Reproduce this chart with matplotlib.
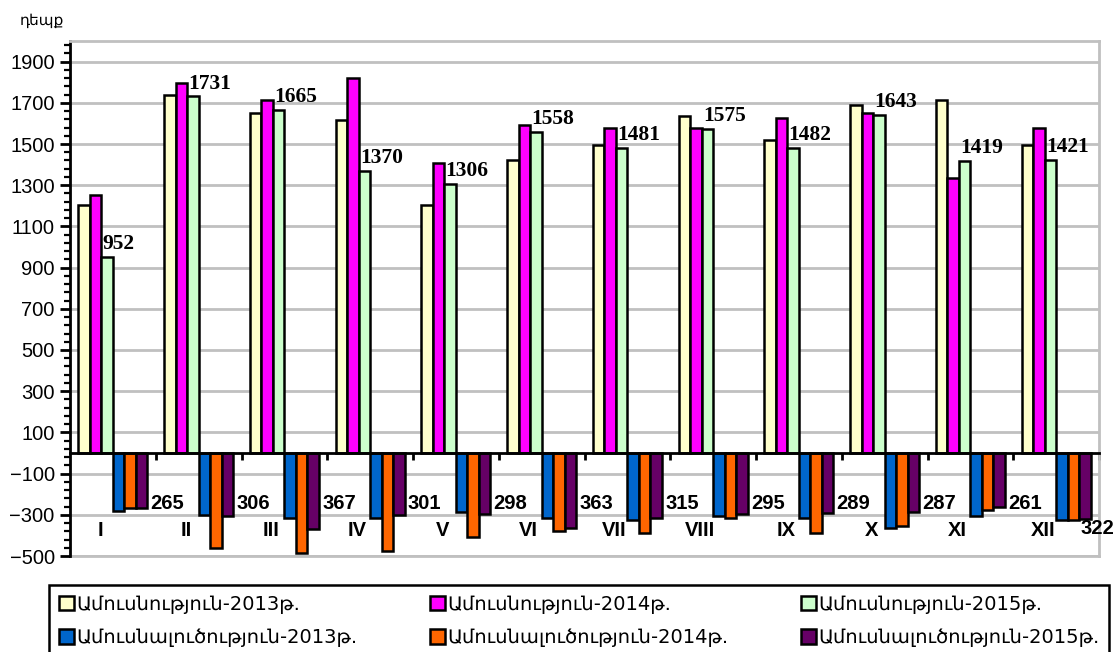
import numpy as np
import matplotlib
matplotlib.use("Agg")
import matplotlib.pyplot as plt
from matplotlib.ticker import FixedLocator

months = ["I", "II", "III", "IV", "V", "VI", "VII", "VIII", "IX", "X", "XI", "XII"]

# marriages (positive), divorces (negative, drawn below zero)
marr_2013 = [1203, 1737, 1651, 1615, 1203, 1421, 1493, 1638, 1518, 1688, 1713, 1493]
marr_2014 = [1251, 1798, 1713, 1821, 1409, 1590, 1579, 1580, 1625, 1651, 1336, 1579]
marr_2015 = [952, 1731, 1665, 1370, 1306, 1558, 1481, 1575, 1482, 1643, 1419, 1421]
div_2013 = [280, 300, 315, 315, 287, 315, 325, 305, 315, 362, 304, 325]
div_2014 = [267, 460, 486, 474, 409, 377, 388, 315, 389, 352, 276, 325]
div_2015 = [265, 306, 367, 301, 298, 363, 315, 295, 289, 287, 261, 322]

series = [
    ("Ամուսնություն-2013թ.", marr_2013, 1, "#FFFFCC"),
    ("Ամուսնություն-2014թ.", marr_2014, 1, "#FF00FF"),
    ("Ամուսնություն-2015թ.", marr_2015, 1, "#CCFFCC"),
    ("Ամուսնալուծություն-2013թ.", div_2013, -1, "#0066CC"),
    ("Ամուսնալուծություն-2014թ.", div_2014, -1, "#FF6600"),
    ("Ամուսնալուծություն-2015թ.", div_2015, -1, "#660066"),
]

fig = plt.figure(figsize=(11.19, 6.52), dpi=100)
ax = fig.add_axes([70 / 1119, 1 - 556 / 652, 1029 / 1119, 515 / 652])

x = np.arange(len(months))
w = 0.134
handles = []
for k, (name, vals, sign, color) in enumerate(series):
    b = ax.bar(x + (k - 2.5) * w, sign * np.array(vals), width=w, color=color,
               edgecolor="black", linewidth=1.8, label=name, zorder=3)
    handles.append(b)

ax.set_xlim(-0.5, len(months) - 0.5)
ax.set_ylim(-500, 2000)
ax.set_yticks(np.arange(-500, 2000, 200))
ax.yaxis.set_minor_locator(FixedLocator(np.arange(-500, 2001, 40)))
ax.tick_params(axis="y", which="major", length=7, width=2, labelsize=14.5, pad=4)
ax.tick_params(axis="y", which="minor", length=4, width=1.6)
for lab in ax.get_yticklabels():
    lab.set_family("Liberation Sans")

ax.grid(axis="y", color="#c0c0c0", linewidth=2, zorder=0)
ax.set_axisbelow(True)

# category axis sits on zero
ax.spines["bottom"].set_position(("data", 0))
ax.spines["bottom"].set_linewidth(2)
ax.spines["bottom"].set_zorder(4)
ax.spines["left"].set_linewidth(2)
ax.spines["top"].set_color("#c0c0c0")
ax.spines["top"].set_linewidth(2)
ax.spines["right"].set_color("#c0c0c0")
ax.spines["right"].set_linewidth(2)
ax.set_xticks(np.arange(len(months)) + 0.5)
ax.set_xticklabels([])
ax.tick_params(axis="x", length=5, width=2, direction="out")
ax.axhline(-500, color="#c0c0c0", linewidth=2, zorder=0, clip_on=False)

for i, m in enumerate(months):
    ax.text(i - 0.15, -375, m, ha="center", va="center", fontsize=14.5,
            fontweight="bold", family="Liberation Sans")

for i, v in enumerate(marr_2015):
    ax.annotate(str(v), (i - 0.12, v), xytext=(0, 2), textcoords="offset points",
                ha="left", va="bottom", fontsize=15.5, fontweight="bold",
                family="Liberation Serif", zorder=5)

for i, v in enumerate(div_2015):
    last = i == len(div_2015) - 1
    ax.text(i + (0.28 if last else 0.44), -365 if last else -245, str(v),
            ha="left", va="center", fontsize=14.5, fontweight="bold",
            family="Liberation Sans", zorder=5)

fig.text(20 / 1119, 1 - 21 / 652, "դեպք", ha="left", va="center",
         fontsize=11, family="DejaVu Sans")

order = [0, 3, 1, 4, 2, 5]
leg = fig.legend([handles[j] for j in order], [series[j][0] for j in order],
                 loc="lower left", ncol=3, mode="expand",
                 bbox_to_anchor=(49 / 1119, -5 / 652, 1060 / 1119, 80 / 652),
                 fancybox=False, edgecolor="black", framealpha=1,
                 prop={"family": "DejaVu Sans", "size": 14},
                 handlelength=0.8, handleheight=0.8, handletextpad=0.1,
                 borderpad=0.5, labelspacing=0.75, borderaxespad=0)
leg.get_frame().set_linewidth(1.8)

fig.savefig("out.png", dpi=100)
